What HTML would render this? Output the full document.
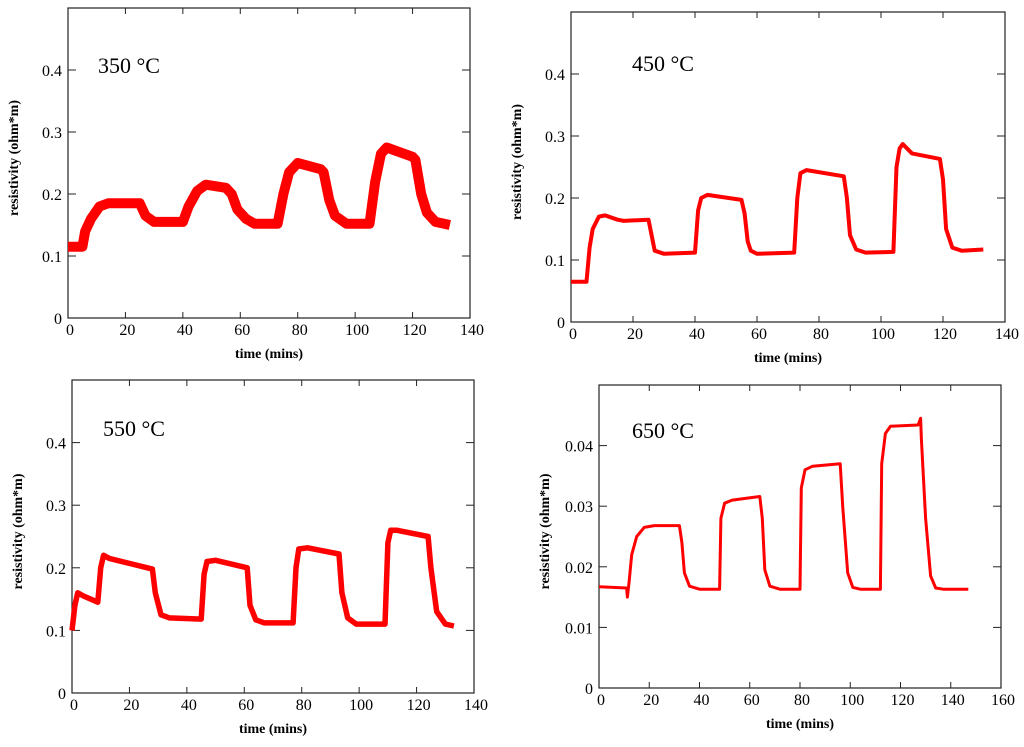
<!DOCTYPE html>
<html><head><meta charset="utf-8"><style>
body{margin:0;background:#fff;}
svg{display:block;font-family:"Liberation Serif",serif;}
</style></head><body>
<svg id="fig" width="1024" height="747"></svg>
<script>
const t350=[0,5,6,8,11,14,25,27,30,40,42,45,48,55,57,59,62,65,73,75,77,80,88,89,91,93,97,105,107,109,111,120,121,123,125,128,133];
const v350=[0.115,0.115,0.14,0.16,0.18,0.185,0.185,0.165,0.155,0.155,0.18,0.205,0.215,0.21,0.2,0.175,0.16,0.152,0.152,0.2,0.235,0.25,0.24,0.235,0.19,0.165,0.152,0.152,0.22,0.265,0.275,0.26,0.255,0.2,0.17,0.155,0.15];
const t450=[0,5,6,7,9,11,15,17,25,26,27,30,40,41,42,44,55,56,57,58,60,72,73,74,76,88,89,90,92,95,104,105,106,107,110,119,120,121,123,126,133];
const v450=[0.065,0.065,0.12,0.15,0.17,0.172,0.165,0.163,0.165,0.14,0.115,0.11,0.112,0.18,0.2,0.205,0.197,0.175,0.13,0.115,0.11,0.112,0.2,0.24,0.245,0.235,0.2,0.14,0.117,0.112,0.113,0.25,0.28,0.287,0.272,0.263,0.23,0.15,0.12,0.115,0.117];
const t550=[0,1,2,4,9,10,11,13,28,29,31,34,45,46,47,50,61,62,64,67,77,78,79,82,93,94,96,99,109,110,111,113,124,125,127,130,133];
const v550=[0.1,0.14,0.16,0.155,0.145,0.2,0.22,0.215,0.198,0.16,0.125,0.12,0.118,0.19,0.21,0.212,0.2,0.14,0.117,0.112,0.112,0.2,0.23,0.232,0.222,0.16,0.12,0.11,0.11,0.24,0.26,0.26,0.25,0.2,0.13,0.11,0.107];
const t650=[0,11,11.3,12,13,15,18,22,32,33,34,36,40,48,48.5,50,53,64,65,66,68,72,80,80.5,82,85,96,97,99,101,104,112,112.5,114,116,127,128,128.3,130,132,134,137,147];
const v650=[0.0167,0.0165,0.015,0.0175,0.022,0.025,0.0265,0.0268,0.0268,0.024,0.019,0.0168,0.0163,0.0163,0.028,0.0305,0.031,0.0316,0.028,0.0195,0.0168,0.0163,0.0163,0.033,0.036,0.0366,0.037,0.03,0.019,0.0166,0.0163,0.0163,0.037,0.042,0.0432,0.0434,0.0445,0.041,0.028,0.0185,0.0165,0.0163,0.0163];
const yt1=["0","0.1","0.2","0.3","0.4"];
const yt4=["0","0.01","0.02","0.03","0.04"];
const panels=[
 {name:"350",label:"350 °C",t:t350,v:v350,L:68,R:470,T:8,B:318,xmax:140,ymax:0.5,yt:yt1,ystep:0.1,xstep:20,w:10,ly:73,lx:98},
 {name:"450",label:"450 °C",t:t450,v:v450,L:571,R:1005,T:12,B:322,xmax:140,ymax:0.5,yt:yt1,ystep:0.1,xstep:20,w:4,ly:71,lx:632},
 {name:"550",label:"550 °C",t:t550,v:v550,L:72,R:474,T:380,B:693,xmax:140,ymax:0.5,yt:yt1,ystep:0.1,xstep:20,w:5.5,ly:436,lx:103},
 {name:"650",label:"650 °C",t:t650,v:v650,L:599,R:1001,T:385,B:688,xmax:160,ymax:0.05,yt:yt4,ystep:0.01,xstep:20,w:3,ly:438,lx:632}
];
const NS="http://www.w3.org/2000/svg";
const svg=document.getElementById('fig');
function mk(tag,attrs,parent,text){const e=document.createElementNS(NS,tag);for(const k in attrs)e.setAttribute(k,attrs[k]);if(text!==undefined)e.textContent=text;parent.appendChild(e);return e;}
panels.forEach(p=>{
 const g=mk('g',{},svg);
 
 
 const X=t=>p.L+(p.R-p.L)*t/p.xmax;
 const Y=v=>p.B-(p.B-p.T)*v/p.ymax;
 const fr=mk('rect',{x:p.L,y:p.T,width:p.R-p.L,height:p.B-p.T,fill:'none',stroke:'#222','stroke-width':1.2},g);
 
 
 for(let i=0;i<p.yt.length;i++){
  const y=Y(i*p.ystep);
  mk('line',{x1:p.L,x2:p.L+8,y1:y,y2:y,stroke:'#222'},g);
  mk('line',{x1:p.R,x2:p.R-8,y1:y,y2:y,stroke:'#222'},g);
  const tx=mk('text',{x:p.L-6,y:y+6,'text-anchor':'end','font-size':16},g,p.yt[i]);
  
  
 }
 for(let t=0;t<=p.xmax;t+=p.xstep){
  const x=X(t);
  mk('line',{x1:x,x2:x,y1:p.B,y2:p.B-6,stroke:'#222'},g);
  mk('line',{x1:x,x2:x,y1:p.T,y2:p.T+6,stroke:'#222'},g);
  const tx=mk('text',{x:x+2,y:p.B+17,'text-anchor':'middle','font-size':16},g,String(t));
  
  
 }
 const xl=mk('text',{x:(p.L+p.R)/2,y:p.B+40,'text-anchor':'middle','font-size':14,'font-weight':'bold'},g,'time (mins)');
 
 
 const cy=(p.T+p.B)/2-5, cx=p.L-50;
 const yl=mk('text',{x:cx,y:cy,'text-anchor':'middle','font-size':14,'font-weight':'bold',transform:`rotate(-90 ${cx} ${cy})`},g,'resistivity (ohm*m)');
 
 
 const lb=mk('text',{x:p.lx,y:p.ly,'font-size':22},g,p.label);
 
 
 const d=p.t.map((t,i)=>(i?'L':'M')+X(t).toFixed(1)+','+Y(p.v[i]).toFixed(1)).join('');
 const ln=mk('path',{d:d,fill:'none',stroke:'#ff0000','stroke-width':p.w,'stroke-linejoin':'round'},g);
 
 
});
</script>
</body></html>
